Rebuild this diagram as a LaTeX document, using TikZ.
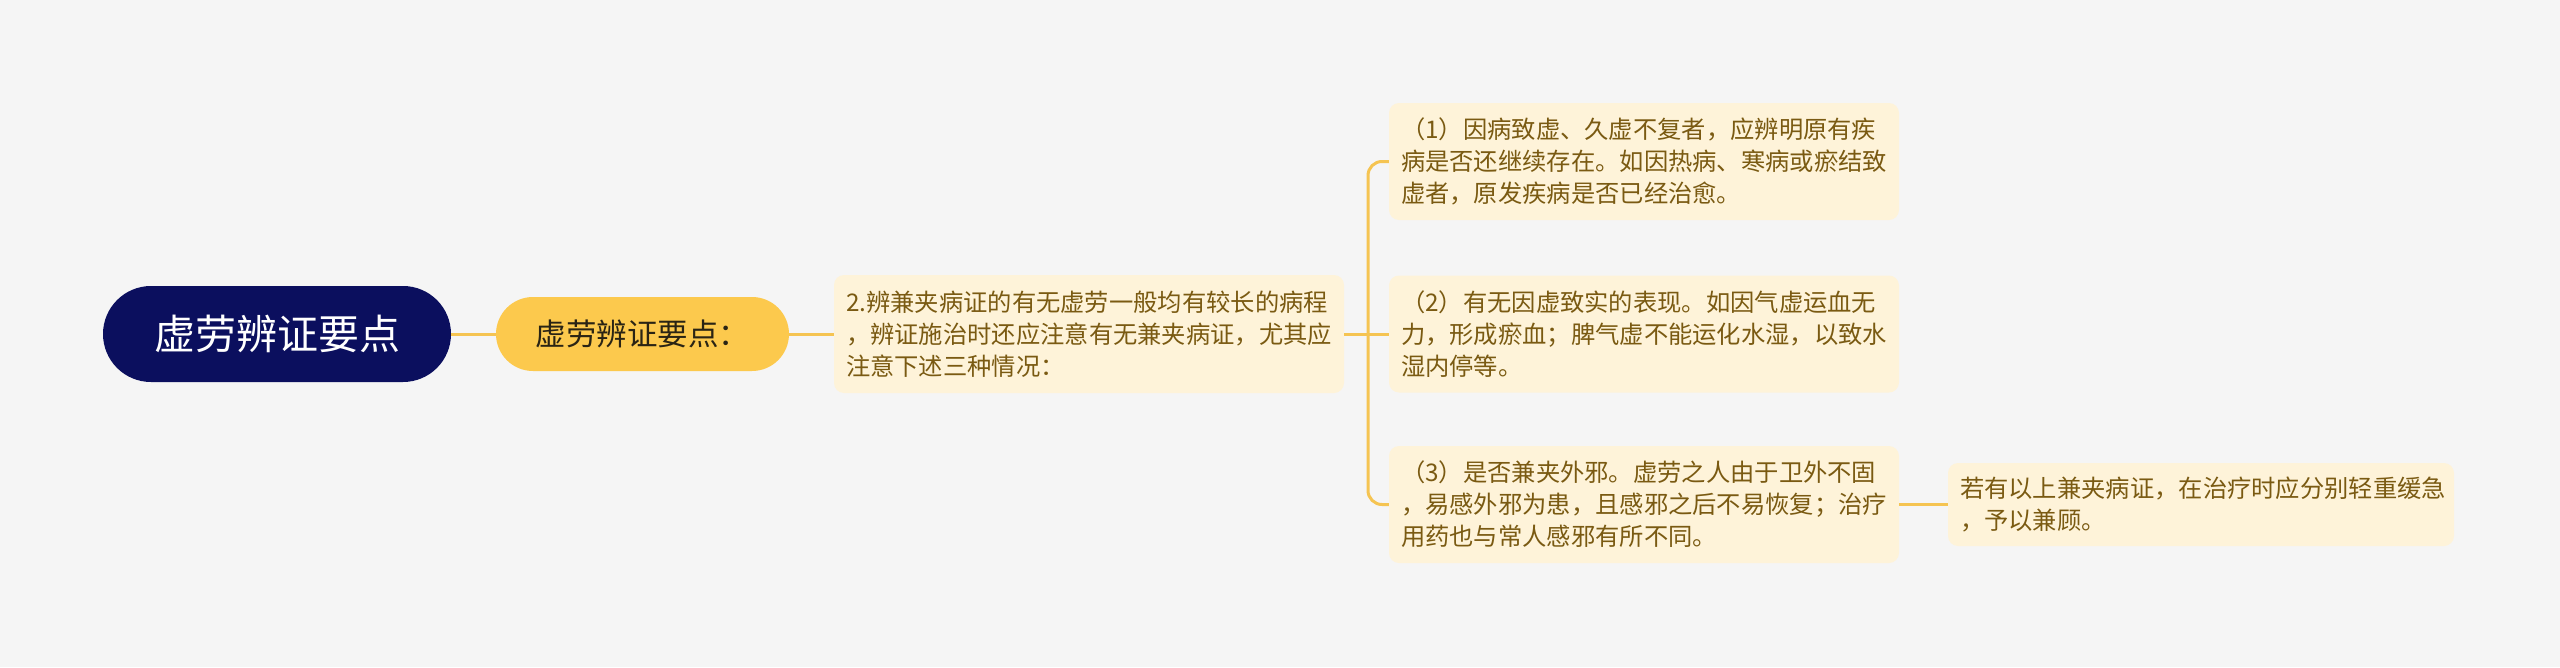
\documentclass[tikz,border=0pt]{standalone}
\usepackage{fontspec}
\setmainfont{Noto Sans CJK SC}
\definecolor{bgc}{HTML}{F5F5F5}
\definecolor{navy}{HTML}{0B0F5E}
\definecolor{gold}{HTML}{FCC94D}
\definecolor{cream}{HTML}{FEF3D9}
\definecolor{brown}{HTML}{7A5A12}
\definecolor{linec}{HTML}{F5C452}
\definecolor{darktxt}{HTML}{2A2414}
\begin{document}
\begin{tikzpicture}[x=1pt,y=-1pt,
  rootbox/.style={fill=navy,text=white,rounded corners=48pt,minimum width=348pt,minimum height=96pt,font=\fontsize{41}{48}\selectfont,inner sep=0pt},
  lvonebox/.style={fill=gold,text=darktxt,rounded corners=37pt,minimum width=293pt,minimum height=74pt,font=\fontsize{30.5}{36}\selectfont,inner sep=0pt},
  leafbox/.style={fill=cream,text=brown,rounded corners=10pt,minimum width=510pt,text width=486pt,align=left,inner xsep=12pt,inner ysep=0pt,font=\fontsize{24.3}{32}\selectfont},
  conn/.style={draw=linec,line width=3pt}]
\fill[bgc] (0,0) rectangle (2560,667);
\useasboundingbox (0,0) rectangle (2560,667);
\node[rootbox] (root) at (277,334) {虚劳辨证要点};
\node[lvonebox] (l1) at (642.5,334) {虚劳辨证要点：};
\node[leafbox,minimum height=118pt] (l2) at (1089,334) {2.辨兼夹病证的有无虚劳一般均有较长的病程\\，辨证施治时还应注意有无兼夹病证，尤其应\\注意下述三种情况：};
\node[leafbox,minimum height=117pt] (c1) at (1644,161.5) {（1）因病致虚、久虚不复者，应辨明原有疾\\病是否还继续存在。如因热病、寒病或瘀结致\\虚者，原发疾病是否已经治愈。};
\node[leafbox,minimum height=117pt] (c2) at (1644,334) {（2）有无因虚致实的表现。如因气虚运血无\\力，形成瘀血；脾气虚不能运化水湿，以致水\\湿内停等。};
\node[leafbox,minimum height=117pt] (c3) at (1644,504.5) {（3）是否兼夹外邪。虚劳之人由于卫外不固\\，易感外邪为患，且感邪之后不易恢复；治疗\\用药也与常人感邪有所不同。};
\node[leafbox,minimum width=506pt,text width=482pt,minimum height=83pt] (c4) at (2201,504.5) {若有以上兼夹病证，在治疗时应分别轻重缓急\\，予以兼顾。};
\coordinate (bx) at (1368,334);
\draw[conn] (root.east) -- (l1.west);
\draw[conn] (l1.east) -- (l2.west);
\draw[conn] (l2.east) -- (bx) -- (c2.west);
\draw[conn,rounded corners=14pt] (c1.west) -| (bx) |- (c3.west);
\draw[conn] (c3.east) -- (c4.west);
\end{tikzpicture}
\end{document}
